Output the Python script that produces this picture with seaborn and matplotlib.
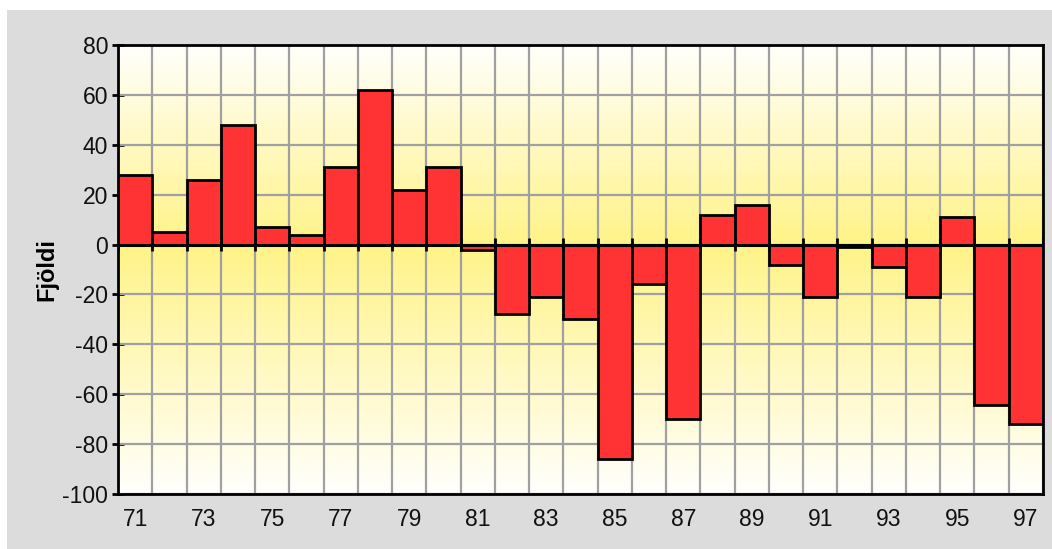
import numpy as np
import pandas as pd
import matplotlib
matplotlib.use("Agg")
import matplotlib.pyplot as plt
import seaborn as sns
from matplotlib.patches import Rectangle

years = [str(y) for y in range(71, 98)]
values = [28, 5, 26, 48, 7, 4, 31, 62, 22, 31, -2, -28, -21, -30, -86, -16, -70,
          12, 16, -8, -21, -1, -9, -21, 11, -64.5, -72]
tick_labels = [y if (int(y) % 2 == 1) else "" for y in years]
y_ticks = list(range(-100, 81, 20))

sns.set_theme(style="white")
plt.rcParams['font.family'] = ['Liberation Sans', 'DejaVu Sans']

fig = plt.figure(figsize=(10.52, 5.49), dpi=100)
fig.patch.set_facecolor("white")
fig.add_artist(Rectangle((7 / 1052, 0), 1 - 7 / 1052, 1 - 10 / 549,
                         transform=fig.transFigure, facecolor="#dcdcdc",
                         edgecolor="none", zorder=-10))
ax = fig.add_axes([118 / 1052, 1 - 494 / 549, (1043 - 118) / 1052, (494 - 45) / 549])

df = pd.DataFrame({"year": years, "value": values})
n = len(years)
ymin, ymax = -100, 80

# gradient background
yy = np.linspace(ymax, ymin, 400)
t = np.where(yy >= 0, yy / ymax, yy / ymin)
white = np.array([255, 255, 252]) / 255
yellow = np.array([255, 243, 135]) / 255
grad = (yellow[None, :] * (1 - t[:, None]) + white[None, :] * t[:, None])
ax.imshow(grad[:, None, :], extent=[-0.5, n - 0.5, ymin, ymax], aspect="auto", zorder=0)

# grid
for yv in y_ticks:
    ax.axhline(yv, color="#a0a0a0", lw=1.6, zorder=1)
for k in range(n + 1):
    ax.axvline(k - 0.5, color="#a0a0a0", lw=1.6, zorder=1)

sns.barplot(data=df, x="year", y="value", color="#ff3333", edgecolor="black",
            linewidth=2, width=1.0, saturation=1, ax=ax, zorder=2)

ax.axhline(0, color="black", lw=2.2, zorder=3)
ax.vlines(np.arange(n + 1) - 0.5, -2.5, 2.5, color="black", lw=2, zorder=3)

ax.set_xlim(-0.5, n - 0.5)
ax.set_ylim(ymin, ymax)
ax.set_yticks(y_ticks)
ax.set_yticklabels([str(v) for v in y_ticks], fontsize=16.5, color="#111111")
ax.set_xticks(range(n))
ax.set_xticklabels(tick_labels, fontsize=16.5, color="#111111")
ax.tick_params(axis="x", length=0, pad=10)
ax.tick_params(axis="y", direction="inout", length=8, width=2, color="black", pad=3, left=True)
ax.set_xlabel("")
ax.set_ylabel("Fjöldi", fontsize=17, fontweight="bold", labelpad=3, color="black")
for s in ax.spines.values():
    s.set_color("black")
    s.set_linewidth(2)
    s.set_visible(True)
    s.set_zorder(4)

fig.savefig("out.png", dpi=100)
